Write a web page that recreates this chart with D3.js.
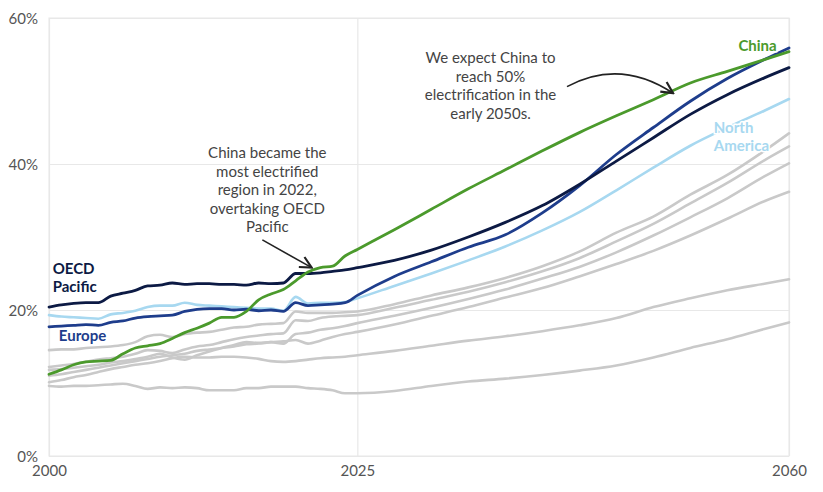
<!DOCTYPE html>
<html>
<head>
<meta charset="utf-8">
<script src="https://cdn.jsdelivr.net/npm/d3@7"></script>
<style>
  html, body { margin: 0; padding: 0; background: #fff; overflow: hidden; }
  #canvas { width: 823px; height: 492px; }
  svg { display: block; }
  text { font-family: Lato, "Open Sans", sans-serif; }
</style>
</head>
<body>
<div id="canvas"></div>
<script>
// years shared by every series: history annual, projection every 3 years
var years = [2000, 2001, 2002, 2003, 2004, 2005, 2006, 2007, 2008, 2009,
             2010, 2011, 2012, 2013, 2014, 2015, 2016, 2017, 2018, 2019,
             2020, 2021, 2022, 2023, 2024, 2025,
             2028, 2031, 2034, 2037, 2040, 2043, 2046, 2049, 2052, 2055, 2058, 2060];

// electrification share, %
var china = [11.2, 11.8, 12.5, 12.9, 13.0, 13.1, 14.0, 14.8, 15.1, 15.4,
             16.1, 16.9, 17.5, 18.2, 19.0, 19.0, 19.8, 21.4, 22.2, 22.8,
             24.0, 25.2, 25.8, 26.0, 27.4, 28.3,
             31.0, 33.8, 36.6, 39.2, 41.8, 44.3, 46.6, 48.8, 51.1, 52.7, 54.3, 55.4];
var oecdPacific = [20.4, 20.7, 20.9, 21.0, 21.0, 21.9, 22.3, 22.7, 23.3, 23.4,
             23.7, 23.5, 23.6, 23.6, 23.5, 23.5, 23.4, 23.7, 23.6, 23.7,
             25.0, 25.0, 25.1, 25.3, 25.5, 25.8,
             26.8, 28.2, 30.0, 32.0, 34.3, 37.2, 40.4, 43.6, 46.8, 49.5, 51.8, 53.2];
var europe = [17.7, 17.8, 17.9, 18.0, 17.9, 18.3, 18.5, 18.9, 19.1, 19.2,
             19.3, 19.8, 20.1, 20.2, 20.2, 20.0, 20.1, 19.9, 20.0, 19.8,
             21.0, 20.6, 20.7, 20.8, 21.0, 22.0,
             24.6, 26.6, 28.6, 30.3, 33.3, 37.0, 41.3, 45.0, 48.6, 51.7, 54.3, 55.9];
var northAmerica = [19.3, 19.1, 19.0, 18.9, 18.8, 19.4, 19.6, 19.9, 20.4, 20.6,
             20.6, 21.0, 20.7, 20.6, 20.5, 20.4, 20.3, 20.2, 20.2, 19.9,
             21.8, 20.9, 21.0, 21.0, 21.1, 21.6,
             23.3, 25.0, 26.8, 28.7, 30.9, 33.4, 36.4, 39.5, 42.5, 45.0, 47.3, 48.9];

// other regions (unlabelled, grey)
var otherA = [14.5, 14.6, 14.6, 14.8, 14.9, 15.0, 15.2, 15.6, 16.4, 16.6,
             16.3, 16.7, 16.9, 17.0, 17.3, 17.6, 17.7, 18.0, 18.1, 18.2,
             19.8, 19.6, 19.6, 19.6, 19.7, 19.8,
             20.8, 22.0, 23.1, 24.4, 26.0, 28.0, 30.6, 32.8, 35.8, 38.5, 41.8, 44.2];
var otherB = [12.2, 12.4, 12.6, 12.9, 13.2, 13.4, 13.6, 14.0, 14.5, 14.4,
             14.1, 14.6, 15.0, 15.2, 15.6, 16.0, 16.3, 16.5, 16.7, 16.8,
             18.6, 18.5, 18.9, 19.1, 19.2, 19.3,
             20.3, 21.4, 22.5, 23.8, 25.3, 27.1, 29.4, 31.8, 34.6, 37.4, 40.5, 42.4];
var otherC = [11.8, 11.9, 12.1, 12.3, 12.5, 12.8, 13.0, 13.3, 13.6, 14.0,
             13.5, 13.2, 13.8, 14.3, 14.8, 15.2, 15.6, 15.5, 15.6, 15.4,
             16.7, 16.9, 17.3, 17.5, 17.8, 18.2,
             19.2, 20.3, 21.5, 22.8, 24.3, 25.9, 27.9, 30.2, 32.7, 35.3, 38.3, 40.1];
var otherD = [11.0, 11.2, 11.5, 11.8, 12.1, 12.4, 12.7, 13.0, 13.3, 13.6,
             13.8, 14.0, 14.4, 14.6, 14.8, 15.0, 15.3, 15.4, 15.6, 15.7,
             15.9, 15.4, 15.8, 16.3, 16.7, 17.0,
             18.0, 19.2, 20.4, 21.7, 23.0, 24.6, 26.3, 28.1, 30.2, 32.5, 34.9, 36.2];
var otherE = [10.1, 10.4, 10.8, 11.1, 11.5, 11.9, 12.2, 12.5, 12.7, 13.0,
             13.4, 13.6, 13.5, 13.5, 13.6, 13.6, 13.5, 13.3, 13.0, 12.9,
             13.0, 13.2, 13.4, 13.5, 13.6, 13.8,
             14.4, 15.1, 15.8, 16.4, 17.1, 17.9, 18.9, 20.4, 21.6, 22.7, 23.6, 24.2];
var otherF = [9.6, 9.5, 9.6, 9.6, 9.7, 9.8, 9.9, 9.6, 9.2, 9.4,
             9.3, 9.4, 9.3, 9.0, 9.0, 9.0, 9.3, 9.3, 9.5, 9.5,
             9.5, 9.3, 9.2, 9.0, 8.6, 8.6,
             8.9, 9.6, 10.2, 10.6, 11.1, 11.7, 12.4, 13.5, 14.8, 16.0, 17.4, 18.3];

var yTicks = [0, 20, 40, 60];
var xTicks = [2000, 2025, 2060];

var annotation2022 = ['China became the', 'most electrified', 'region in 2022,', 'overtaking OECD', 'Pacific'];
var annotation2050 = ['We expect China to', 'reach 50%', 'electrification in the', 'early 2050s.'];

var width = 823, height = 492;
var margin = { left: 49, top: 18, right: 34, bottom: 36 };
var innerWidth = width - margin.left - margin.right;
var innerHeight = height - margin.top - margin.bottom;

var x = d3.scaleLinear().domain([2000, 2060]).range([0, innerWidth]);
var y = d3.scaleLinear().domain([0, 60]).range([innerHeight, 0]);

var svg = d3.select('#canvas').append('svg')
  .attr('width', width)
  .attr('height', height);

var g = svg.append('g')
  .attr('transform', 'translate(' + margin.left + ',' + margin.top + ')');

// frame
g.append('rect')
  .attr('width', innerWidth).attr('height', innerHeight)
  .attr('fill', 'none').attr('stroke', '#ececec').attr('stroke-width', 1.2);

// y axis + horizontal grid
var yAxis = g.append('g')
  .call(d3.axisLeft(y).tickValues(yTicks).tickSize(-innerWidth).tickPadding(11).tickFormat(d => d + '%'));
yAxis.select('.domain').remove();
yAxis.selectAll('line').attr('stroke', '#e8e8e8').attr('stroke-width', 1.2);
yAxis.selectAll('text').attr('dy', 5).attr('fill', '#555').style('font-size', '15px');

// x axis + vertical grid
var xAxis = g.append('g')
  .attr('transform', 'translate(0,' + innerHeight + ')')
  .call(d3.axisBottom(x).tickValues(xTicks).tickSize(-innerHeight).tickFormat(d3.format('d')));
xAxis.select('.domain').remove();
xAxis.selectAll('line').attr('stroke', '#e8e8e8').attr('stroke-width', 1.2);
xAxis.selectAll('text').attr('dy', null).attr('y', 20).attr('fill', '#555').style('font-size', '15px');

var line = d3.line()
  .x(d => x(d.year))
  .y(d => y(d.value))
  .curve(d3.curveMonotoneX);

function toPoints(values) {
  return values.map((v, i) => ({ year: years[i], value: v }));
}

var series = [
  { name: 'other A', values: otherA, color: '#c9c9c9', width: 2.6 },
  { name: 'other B', values: otherB, color: '#c9c9c9', width: 2.6 },
  { name: 'other C', values: otherC, color: '#c9c9c9', width: 2.6 },
  { name: 'other D', values: otherD, color: '#c9c9c9', width: 2.6 },
  { name: 'other E', values: otherE, color: '#c9c9c9', width: 2.6 },
  { name: 'other F', values: otherF, color: '#c9c9c9', width: 2.6 },
  { name: 'North America', values: northAmerica, color: '#a7d8f0', width: 2.6 },
  { name: 'Europe', values: europe, color: '#1e3d8c', width: 2.8 },
  { name: 'OECD Pacific', values: oecdPacific, color: '#0c1a44', width: 2.8 },
  { name: 'China', values: china, color: '#4b9a2c', width: 2.8 }
];

g.selectAll('path.series')
  .data(series)
  .enter()
  .append('path')
  .attr('class', 'series')
  .attr('d', d => line(toPoints(d.values)))
  .attr('fill', 'none')
  .attr('stroke', d => d.color)
  .attr('stroke-width', d => d.width)
  .attr('stroke-linejoin', 'round')
  .attr('stroke-linecap', 'round');

// series labels
var labels = [
  { lines: ['OECD', 'Pacific'], color: '#0c1a44', year: 2000.3, value: 24.9, anchor: 'start' },
  { lines: ['Europe'], color: '#1e3d8c', year: 2000.8, value: 15.7, anchor: 'start' },
  { lines: ['China'], color: '#4b9a2c', year: 2059.0, value: 55.5, anchor: 'end' },
  { lines: ['North', 'America'], color: '#a7d8f0', year: 2053.9, value: 44.2, anchor: 'start' }
];

labels.forEach(function (l) {
  var t = g.append('text')
    .attr('x', x(l.year))
    .attr('y', y(l.value))
    .attr('text-anchor', l.anchor)
    .attr('fill', l.color)
    .attr('stroke', '#fff').attr('stroke-width', 3).attr('paint-order', 'stroke')
    .style('font-size', '15px').style('font-weight', 'bold');
  l.lines.forEach(function (s, i) {
    t.append('tspan').attr('x', x(l.year)).attr('dy', i === 0 ? 0 : 18).text(s);
  });
});

// annotations
var arrowDefs = svg.append('defs');
arrowDefs.append('marker')
  .attr('id', 'arrow')
  .attr('viewBox', '0 0 10 10')
  .attr('refX', 9).attr('refY', 5)
  .attr('markerWidth', 9).attr('markerHeight', 9)
  .attr('orient', 'auto')
  .append('path')
  .attr('d', 'M1,1 L9,5 L1,9')
  .attr('fill', 'none').attr('stroke', '#222').attr('stroke-width', 1.5);

function annotationText(linesArr, year, value) {
  var t = g.append('text')
    .attr('x', x(year)).attr('y', y(value))
    .attr('text-anchor', 'middle')
    .attr('fill', '#444')
    .style('font-size', '15px');
  linesArr.forEach(function (s, i) {
    t.append('tspan').attr('x', x(year)).attr('dy', i === 0 ? 0 : 18.5).text(s);
  });
}

annotationText(annotation2022, 2017.7, 40.8);
annotationText(annotation2050, 2035.8, 53.8);

// straight arrow to 2022 crossing
g.append('path')
  .attr('d', 'M' + x(2017.3) + ',' + y(29.6) + ' L' + x(2021.3) + ',' + y(25.8))
  .attr('fill', 'none').attr('stroke', '#222').attr('stroke-width', 1.6)
  .attr('marker-end', 'url(#arrow)');

// curved arrow to early 2050s
g.append('path')
  .attr('d', 'M' + x(2042.0) + ',' + y(50.6) +
             ' Q' + x(2046.3) + ',' + y(54.5) + ' ' + x(2050.6) + ',' + y(49.7))
  .attr('fill', 'none').attr('stroke', '#222').attr('stroke-width', 1.6)
  .attr('marker-end', 'url(#arrow)');
</script>
</body>
</html>
